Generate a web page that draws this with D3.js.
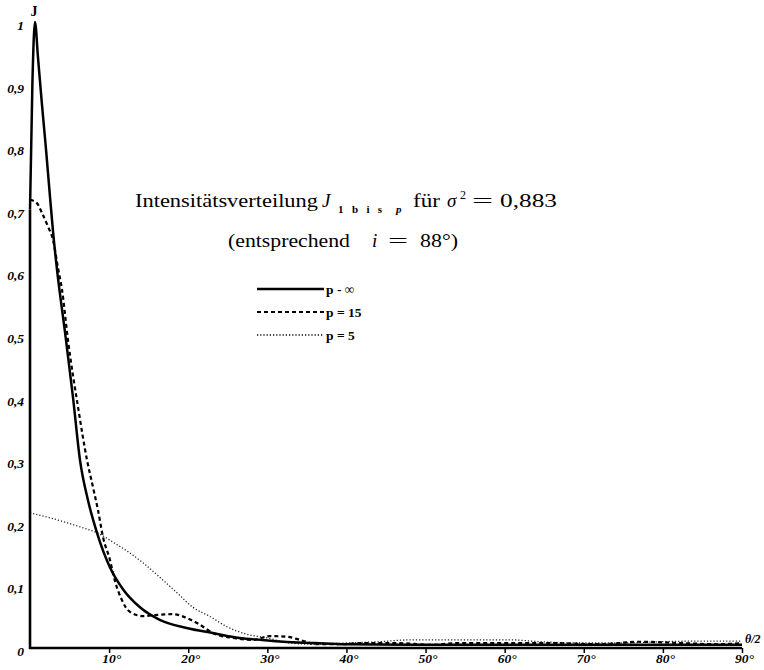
<!DOCTYPE html>
<html><head><meta charset="utf-8">
<script src="https://cdn.jsdelivr.net/npm/d3@7"></script>
<style>body{margin:0;background:#fff}svg{display:block}</style>
</head><body>
<svg id="c" width="764" height="670"></svg>
<script>
// ---- data ----
const xTicks = [10,20,30,40,50,60,70,80,90];
const xTickLabels = ["10°","20°","30°","40°","50°","60°","70°","80°","90°"];
const yTicks = [0,0.1,0.2,0.3,0.4,0.5,0.6,0.7,0.8,0.9,1];
const yTickLabels = ["0","0,1","0,2","0,3","0,4","0,5","0,6","0,7","0,8","0,9","1"];
const seriesNames = ["p - ∞","p = 15","p = 5"];
// p = infinity (solid)
const pInf = [[0,0.70],[0.3,0.90],[0.63,1.0],[1.0,0.945],[1.5,0.87],[2.0,0.80],[2.5,0.725],[2.95,0.66],[3.41,0.605],[4.42,0.505],[5.44,0.40],[6.32,0.30],[7.33,0.236],[8.47,0.184],[10.1,0.129],[11.8,0.093],[13.9,0.065],[16.4,0.045],[19.8,0.032],[23.1,0.024],[26.5,0.016],[29.1,0.013],[32,0.010],[36,0.008],[40,0.006],[50,0.005],[60,0.005],[70,0.005],[80,0.005],[90,0.005]];
// p = 15 (dashed)
const p15 = [[0,0.716],[0.85,0.711],[1.48,0.696],[2.28,0.673],[2.91,0.652],[3.54,0.607],[4.05,0.572],[4.8,0.492],[6.07,0.385],[7.21,0.30],[7.96,0.257],[8.6,0.22],[9.23,0.177],[10.1,0.141],[10.7,0.109],[11.6,0.077],[12.6,0.058],[14.3,0.051],[16.1,0.053],[18.1,0.054],[19.8,0.048],[21.5,0.037],[23.1,0.024],[25.7,0.016],[28.2,0.013],[30.3,0.019],[32.5,0.018],[34.1,0.013],[36.3,0.006],[39.2,0.006],[41.7,0.008],[45.5,0.008],[49.3,0.006],[50.6,0.005],[54.4,0.008],[59.4,0.008],[65.7,0.008],[72,0.006],[77,0.010],[82,0.008],[87,0.006],[90,0.008]];
// p = 5 (dotted)
const p5 = [[0,0.216],[2.5,0.208],[4.7,0.200],[6.7,0.192],[8.5,0.184],[10.5,0.169],[12.6,0.152],[14.3,0.136],[16.4,0.113],[18.6,0.088],[20.6,0.065],[22.8,0.050],[24.9,0.034],[27.4,0.022],[30,0.016],[32.9,0.008],[35.8,0.006],[40.1,0.008],[44.2,0.010],[48,0.013],[54.4,0.013],[60.7,0.013],[64.5,0.010],[69.5,0.008],[74.6,0.008],[79.6,0.010],[84.7,0.011],[90,0.011]];
// title pieces
const titleLine1 = ["Intensitätsverteilung","J","1","bis","p","für","σ","2","=","0,883"];
const titleLine2 = ["(entsprechend","i","=","88°)"];

// ---- drawing ----
const svg = d3.select("#c");
const x = d3.scaleLinear().domain([0,90]).range([30,742]);
const y = d3.scaleLinear().domain([0,1]).range([648,22]);
const serif = "'Liberation Serif','DejaVu Serif',serif";

const line = d3.line().x(d=>x(d[0])).y(d=>y(d[1])).curve(d3.curveMonotoneX);

svg.append("path").datum(p5).attr("d",line).attr("fill","none")
  .attr("stroke","#222").attr("stroke-width",1.3).attr("stroke-dasharray","1.2,2");
svg.append("path").datum(p15).attr("d",line).attr("fill","none")
  .attr("stroke","#000").attr("stroke-width",2.2).attr("stroke-dasharray","4,3");
svg.append("path").datum(pInf).attr("d",line).attr("fill","none")
  .attr("stroke","#000").attr("stroke-width",2.5).attr("stroke-linejoin","round");

// axes
svg.append("line").attr("x1",x(0)).attr("x2",x(0)).attr("y1",y(0)+1).attr("y2",y(0.7))
  .attr("stroke","#000").attr("stroke-width",2.6);
svg.append("line").attr("x1",x(0)-1).attr("x2",x(90)).attr("y1",y(0)).attr("y2",y(0))
  .attr("stroke","#000").attr("stroke-width",2.6);

const xAxis = d3.axisBottom(x).tickValues(xTicks).tickSize(5)
  .tickFormat((d,i)=>xTickLabels[i]);
const gx = svg.append("g").attr("transform",`translate(0,${y(0)})`).call(xAxis);
gx.select(".domain").remove();
gx.selectAll(".tick line").attr("stroke","#000").attr("stroke-width",1.5);
gx.selectAll(".tick text").attr("font-family",serif).attr("font-style","italic")
  .attr("font-weight","bold").attr("font-size",13.5).attr("fill","#000").attr("dy","0.55em").attr("dx",2);

const yAxis = d3.axisLeft(y).tickValues(yTicks).tickSize(0)
  .tickFormat((d,i)=>yTickLabels[i]);
const gy = svg.append("g").attr("transform",`translate(${x(0)-3},0)`).call(yAxis);
gy.select(".domain").remove();
gy.selectAll(".tick text").attr("font-family",serif).attr("font-style","italic")
  .attr("font-weight","bold").attr("font-size",13.5).attr("fill","#000").attr("dy","0.55em");

// axis titles
svg.append("text").attr("x",34).attr("y",16).attr("text-anchor","middle")
  .attr("font-family",serif).attr("font-weight","bold").attr("font-size",14).text("J");
svg.append("text").attr("x",745).attr("y",643)
  .attr("font-family",serif).attr("font-style","italic").attr("font-weight","bold").attr("font-size",12).text("θ/2");

// title (each piece placed at its own x)
const t1Pos = [
  {x:135,len:183,y:207,fs:19},
  {x:322,y:207,fs:19,it:true},
  {x:338,y:213,fs:11,bold:true},
  {x:352,len:30,y:213,fs:11,bold:true,sp:true},
  {x:396,y:213,fs:11,bold:true,it:true},
  {x:413,len:27,y:207,fs:19},
  {x:447,y:207,fs:19,it:true},
  {x:460,y:199,fs:12},
  {x:472,len:21,y:207,fs:19},
  {x:500,len:57,y:207,fs:19}
];
const t2Pos = [
  {x:228,len:122,y:247,fs:19},
  {x:372,y:247,fs:19,it:true},
  {x:388,len:20,y:247,fs:19},
  {x:420,len:38,y:247,fs:19}
];
function drawPieces(texts, pos){
  const g = svg.append("text").attr("font-family",serif).attr("fill","#000");
  texts.forEach((s,i)=>{
    const p = pos[i];
    const ts = g.append("tspan").attr("x",p.x).attr("y",p.y).attr("font-size",p.fs).text(s);
    if (p.len) ts.attr("textLength",p.len).attr("lengthAdjust",p.sp?"spacing":"spacingAndGlyphs");
    if (p.it) ts.attr("font-style","italic");
    if (p.bold) ts.attr("font-weight","bold");
  });
}
drawPieces(titleLine1,t1Pos);
drawPieces(titleLine2,t2Pos);

// legend
const legStyles = [
  {w:2.5, dash:null, y:289},
  {w:2, dash:"4,3", y:312},
  {w:1.3, dash:"1.2,2", y:335}
];
const lg = svg.append("g");
seriesNames.forEach((name,i)=>{
  const s = legStyles[i];
  const l = lg.append("line").attr("x1",257).attr("x2",324).attr("y1",s.y).attr("y2",s.y)
    .attr("stroke","#000").attr("stroke-width",s.w);
  if (s.dash) l.attr("stroke-dasharray",s.dash);
  lg.append("text").attr("x",326).attr("y",s.y+4.5).attr("font-family",serif)
    .attr("font-weight","bold").attr("font-size",13.5).text(name);
});
</script>
</body></html>
